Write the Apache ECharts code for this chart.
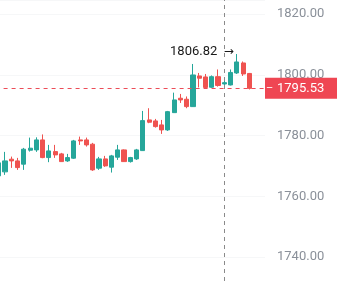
<!DOCTYPE html>
<html>
<head>
<meta charset="utf-8">
<script src="https://cdn.jsdelivr.net/npm/echarts@6/dist/echarts.min.js"></script>
<style>
html,body{margin:0;padding:0;background:#fff;overflow:hidden;}
#chart{position:absolute;left:-5px;top:0;width:342px;height:281px;}
</style>
</head>
<body>
<div id="chart"></div>
<script>
const categories = ['1','2','3','4','5','6','7','8','9','10','11','12','13','14','15','16','17','18','19','20','21','22','23','24','25','26','27','28','29','30','31','32','33','34','35','36','37','38','39','40','41','42','43'];
const openValues = [1766.71,1768.03,1772.20,1771.64,1770.56,1775.16,1775.26,1778.55,1772.73,1774.70,1773.95,1771.64,1772.53,1778.55,1778.55,1777.14,1769.24,1772.30,1769.57,1772.86,1775.26,1771.41,1772.30,1775.03,1785.13,1784.80,1783.49,1781.84,1787.53,1792.27,1791.94,1789.51,1799.61,1799.28,1795.89,1799.37,1796.97,1796.64,1800.59,1803.88,1800.43];
const closeValues = [1770.99,1771.64,1771.64,1769.44,1775.49,1775.82,1778.55,1772.73,1774.93,1773.62,1771.41,1772.73,1778.22,1778.22,1776.91,1768.68,1772.30,1770.00,1773.29,1775.26,1771.41,1772.73,1775.26,1784.90,1784.37,1782.93,1781.84,1787.86,1791.71,1791.71,1789.51,1799.93,1798.85,1795.82,1799.37,1796.48,1797.40,1800.76,1804.21,1800.26,1795.53];
const lowValues = [1765.39,1767.04,1769.34,1768.68,1768.68,1774.70,1774.61,1772.53,1771.22,1772.63,1771.32,1771.32,1772.30,1776.91,1776.35,1768.36,1768.68,1769.67,1767.80,1771.97,1771.32,1771.09,1771.97,1774.93,1784.05,1782.60,1780.53,1781.51,1787.43,1790.72,1788.98,1789.41,1795.82,1795.56,1795.66,1796.09,1795.99,1796.48,1800.26,1799.61,1795.16];
const highValues = [1772.63,1774.61,1773.06,1772.63,1775.92,1779.31,1779.40,1780.36,1776.91,1776.91,1774.28,1773.95,1778.55,1779.64,1779.31,1777.57,1772.96,1773.29,1773.62,1776.91,1775.43,1772.96,1775.59,1788.09,1788.98,1785.46,1785.13,1788.09,1794.11,1793.68,1792.86,1803.55,1800.59,1800.26,1799.77,1801.74,1798.29,1801.74,1806.82,1804.37,1800.59];
const lastPrice = 1795.53;
const markedCategory = '37';
const yMin = 1732.1, yMax = 1824.61;

const upColor = '#26a69a';
const downColor = '#ef5350';

const candleData = categories.map((c, i) =>
  i < openValues.length ? [openValues[i], closeValues[i], lowValues[i], highValues[i]] : '-'
);

const chart = echarts.init(document.getElementById('chart'), null, {renderer: 'canvas'});
chart.setOption({
  animation: false,
  backgroundColor: '#ffffff',
  grid: {left: 0.6, right: 72, top: 0, bottom: 0},
  xAxis: {
    type: 'category',
    data: categories,
    boundaryGap: true,
    show: false
  },
  yAxis: {
    type: 'value',
    position: 'right',
    min: yMin, max: yMax, splitNumber: 5,
    axisLine: {show: false},
    axisTick: {show: false},
    splitLine: {lineStyle: {color: '#f6f7f8', width: 1}},
    axisLabel: {
      color: '#8a9099',
      fontFamily: 'Roboto',
      fontSize: 13,
      margin: 12,
      showMinLabel: false,
      showMaxLabel: false,
      formatter: v => v.toFixed(2)
    }
  },
  series: [{
    type: 'candlestick',
    data: candleData,
    barWidth: 4.6,
    itemStyle: {
      color: upColor, color0: downColor,
      borderColor: upColor, borderColor0: downColor,
      borderWidth: 1
    },
    markLine: {
      symbol: ['none', 'none'],
      silent: true,
      animation: false,
      data: [
        {
          yAxis: lastPrice,
          lineStyle: {color: '#ec4d58', type: [4, 4], width: 1, opacity: 1},
          label: {
            show: true,
            position: 'end',
            distance: 0,
            formatter: () => '{d|–}' + lastPrice.toFixed(2),
            color: '#ffffff',
            fontFamily: 'Roboto',
            fontSize: 13,
            backgroundColor: '#ef4653',
            padding: [4, 14, 4, 1],
            rich: {d: {width: 11, color: '#ffffff', fontSize: 11, fontFamily: 'Roboto'}}
          }
        },
        {
          xAxis: markedCategory,
          lineStyle: {color: '#8a8a8a', type: [4, 4], width: 1},
          label: {show: false}
        }
      ]
    },
    markPoint: {
      symbol: 'circle',
      symbolSize: 0,
      silent: true,
      data: [{type: 'max', valueDim: 'highest'}],
      label: {
        show: true,
        position: 'left',
        distance: 3,
        offset: [0, -2],
        color: '#1a1a1a',
        fontFamily: 'Roboto',
        fontSize: 13,
        formatter: p => Number(p.value).toFixed(2) + '  {a|→}',
        rich: {a: {fontFamily: 'DejaVu Sans', fontSize: 12, color: '#1a1a1a'}}
      }
    }
  }]
});
</script>
</body>
</html>
